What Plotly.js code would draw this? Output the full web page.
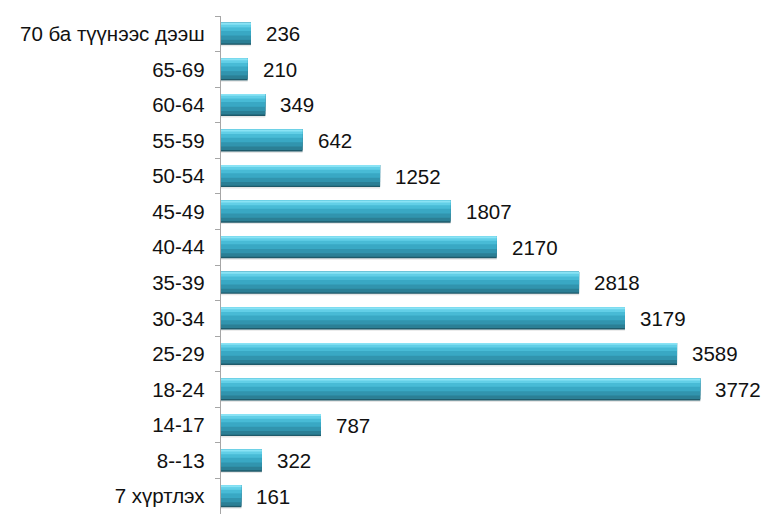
<!DOCTYPE html>
<html><head><meta charset="utf-8">
<script src="https://cdn.plot.ly/plotly-3.0.1.min.js"></script>
<style>html,body{margin:0;padding:0;background:#fff}#c{width:768px;height:514px}</style>
</head><body><div id="c"></div>
<script>
const categories = ["7 хүртлэх","8--13","14-17","18-24","25-29","30-34","35-39","40-44","45-49","50-54","55-59","60-64","65-69","70 ба түүнээс дээш"];
const values = [161,322,787,3772,3589,3179,2818,2170,1807,1252,642,349,210,236];

const font = {family:"Liberation Sans, Arial, sans-serif", size:20.5, color:"#111"};
// gradient layers: [bottom offset, colour], all running up to the same top edge
const topEdge = 0.31;
const layers = [[-0.35,"#e6e6e6"],[-0.31,"#1f5a6a"],[-0.27,"#2b7f95"],[-0.17,"#3194ae"],[-0.05,"#39a8c4"],
                [0.08,"#48bbd6"],[0.18,"#62cfe7"],[0.255,"#8ae3f5"]];
const traces = layers.map(([o,col])=>({type:"bar", orientation:"h", y:categories, x:values,
  offset:o, width:topEdge-o, marker:{color:col, line:{width:0}}, hoverinfo:"skip"}));
const annotations = categories.map((c,i)=>({x:values[i], y:c, xref:"x", yref:"y", text:String(values[i]),
  showarrow:false, xanchor:"left", xshift:13, font:font}));
const layout = {
  width:768, height:514, margin:{l:221, r:40, t:16, b:0},
  barmode:"overlay", showlegend:false, paper_bgcolor:"#fff", plot_bgcolor:"#fff",
  font:font,
  xaxis:{range:[0,3990], visible:false, showgrid:false, zeroline:false},
  yaxis:{type:"category", categoryorder:"array", categoryarray:categories,
    showline:true, linecolor:"#a6a6a6", linewidth:1.3, ticks:"outside", tickson:"boundaries",
    ticklen:5, tickcolor:"#a6a6a6", ticklabelstandoff:11, showgrid:false, zeroline:false, tickfont:font},
  annotations:annotations
};
Plotly.newPlot("c", traces, layout, {displayModeBar:false, staticPlot:true});
</script></body></html>
